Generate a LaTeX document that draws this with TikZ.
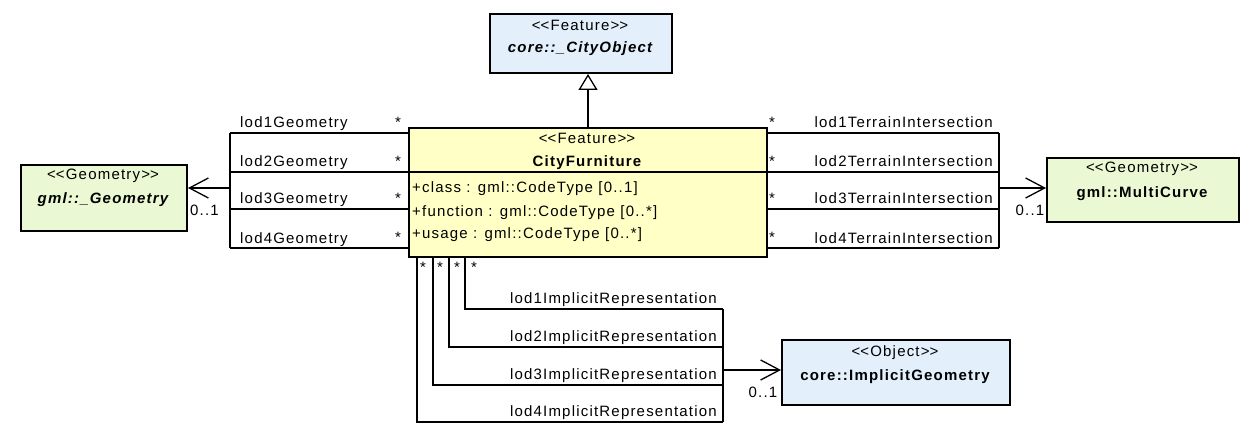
\documentclass[tikz,border=0pt]{standalone}
\usepackage{fontspec}
\setmainfont{Liberation Sans}[LetterSpace=8]
\usetikzlibrary{arrows.meta}
\definecolor{cblue}{RGB}{227,240,252}
\definecolor{cgreen}{RGB}{234,249,212}
\definecolor{cyellow}{RGB}{255,255,198}
\newcommand{\stereo}[1]{\textless\kern0pt\textless#1\textgreater\kern0pt\textgreater}
\tikzset{
  box/.style={draw=black, line width=2pt, inner sep=0pt, anchor=north west},
  txt/.style={font=\fontsize{15}{17}\selectfont, inner sep=0pt},
  conn/.style={draw=black, line width=2pt},
  assoc/.style={conn, -{Straight Barb[length=19pt,width=20pt,line width=1.3pt]}},
  gener/.style={conn, -{Triangle[open,length=16pt,width=19pt,line width=1.3pt]}},
}
\begin{document}
\begin{tikzpicture}[x=1pt,y=-1pt]
\useasboundingbox (0,0) rectangle (1243,441);
% boxes
\node[box, fill=cblue, minimum width=182pt, minimum height=59pt] (co) at (489,13) {};
\node[box, fill=cyellow, minimum width=358pt, minimum height=129pt] (cf) at (408,127) {};
\node[box, fill=cgreen, minimum width=166pt, minimum height=66pt] (geo) at (20,164) {};
\node[box, fill=cgreen, minimum width=192pt, minimum height=64pt] (mc) at (1046,157) {};
\node[box, fill=cblue, minimum width=228pt, minimum height=65pt] (ig) at (781,339) {};
\draw[conn] (cf.west |- 0,172) coordinate (cfdl) -- (cf.east |- 0,172) coordinate (cfdr);
% box texts
\node[txt, anchor=base] (coS) at (580,31) {\stereo{Feature}};
\node[txt, anchor=base] (coN) at (580,53) {\bfseries\itshape core::\_CityObject};
\node[txt, anchor=base] (cfS) at (587,144) {\stereo{Feature}};
\node[txt, anchor=base] (cfN) at (587,167) {\bfseries CityFurniture};
\node[txt, anchor=base west] (a1) at (412,193) {+class : gml::CodeType [0..1]};
\node[txt, anchor=base west] (a2) at (412,216) {+function : gml::CodeType [0..*]};
\node[txt, anchor=base west] (a3) at (412,238) {+usage : gml::CodeType [0..*]};
\node[txt, anchor=base] (geoS) at (103,179) {\stereo{Geometry}};
\node[txt, anchor=base] (geoN) at (103,204) {\bfseries\itshape gml::\_Geometry};
\node[txt, anchor=base] (mcS) at (1142,173) {\stereo{Geometry}};
\node[txt, anchor=base] (mcN) at (1142,197) {\bfseries gml::MultiCurve};
\node[txt, anchor=base] (igS) at (895,356) {\stereo{Object}};
\node[txt, anchor=base] (igN) at (895,380) {\bfseries core::ImplicitGeometry};
% generalization
\draw[gener] (cf.north) -- (cf.north |- co.south);
% left associations
\coordinate (L1) at (230,133);
\coordinate (L2) at (230,172);
\coordinate (L3) at (230,209);
\coordinate (L4) at (230,248);
\coordinate (LJ) at (230,188);
\foreach \c in {L1,L2,L3,L4} \draw[conn] (cf.west |- \c) -- (\c);
\draw[conn] (L1) -- (L4);
\draw[assoc] (LJ) -- (geo.east |- LJ);
\foreach \i/\y in {1/128,2/167,3/204,4/243}
  \node[txt, anchor=base west] (gl\i) at (240,\y) {lod\i Geometry};
\foreach \i/\y in {1/122,2/161,3/198,4/237}
  \node[txt, anchor=center] (gs\i) at (398,\y) {*};
\node[txt] (gm) at (204.5,210.5) {0..1};
% right associations
\coordinate (R1) at (999,133);
\coordinate (R2) at (999,172);
\coordinate (R3) at (999,209);
\coordinate (R4) at (999,248);
\coordinate (RJ) at (999,188);
\foreach \c in {R1,R2,R3,R4} \draw[conn] (cf.east |- \c) -- (\c);
\draw[conn] (R1) -- (R4);
\draw[assoc] (RJ) -- (mc.west |- RJ);
\foreach \i/\y in {1/128,2/167,3/204,4/243}
  \node[txt, anchor=base east] (tl\i) at (993,\y) {lod\i TerrainIntersection};
\foreach \i/\y in {1/122,2/161,3/198,4/237}
  \node[txt, anchor=center] (ts\i) at (772,\y) {*};
\node[txt] (tm) at (1030,210) {0..1};
% bottom associations
\coordinate (B1) at (465,309);
\coordinate (B2) at (449,347);
\coordinate (B3) at (433,385);
\coordinate (B4) at (417,422);
\coordinate (BR1) at (723,309);
\coordinate (BR4) at (723,422);
\coordinate (BJ) at (723,370);
\foreach \c in {B1,B2,B3,B4} \draw[conn] (cf.south -| \c) -- (\c) -- (BR1 |- \c);
\draw[conn] (BR1) -- (BR4);
\draw[assoc] (BJ) -- (ig.west |- BJ);
\foreach \i/\y in {1/303,2/341,3/379,4/416}
  \node[txt, anchor=base east] (il\i) at (717,\y) {lod\i ImplicitRepresentation};
\foreach \i/\x in {1/474,2/457,3/440,4/423}
  \node[txt, anchor=center] (is\i) at (\x,267) {*};
\node[txt] (im) at (763,392) {0..1};
\end{tikzpicture}
\end{document}
